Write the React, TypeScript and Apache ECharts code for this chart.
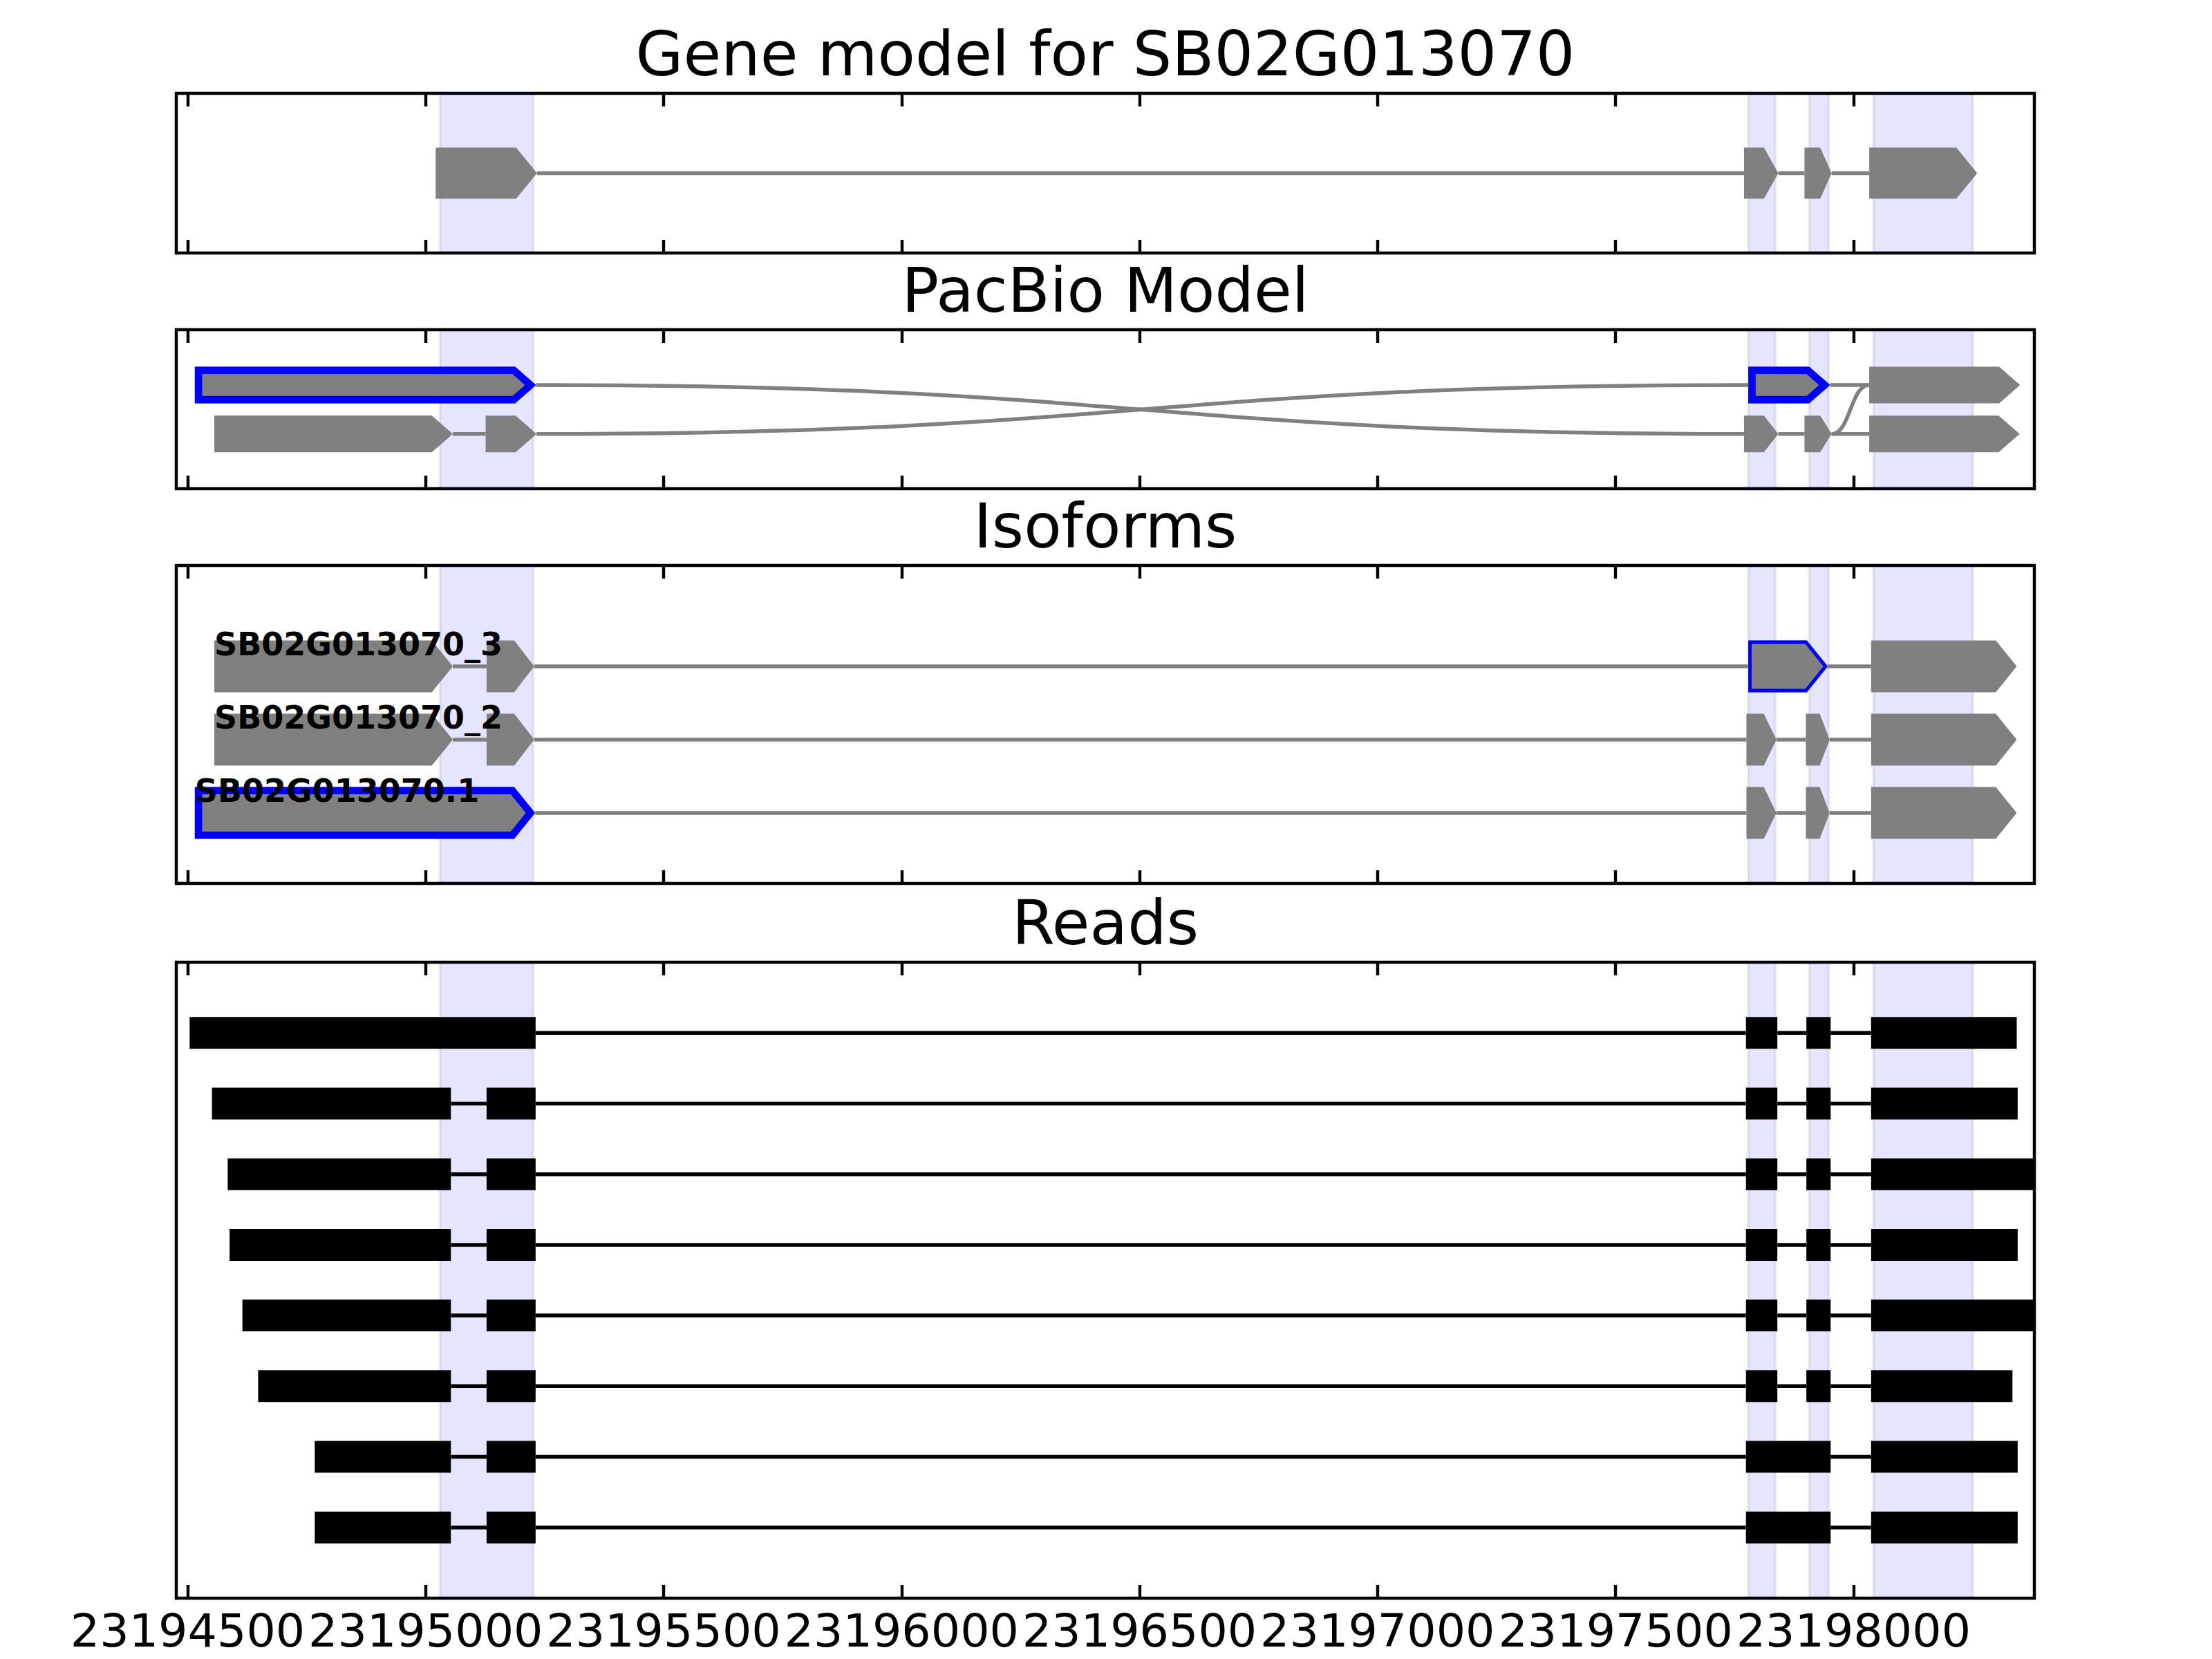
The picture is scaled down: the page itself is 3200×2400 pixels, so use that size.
import React, { useEffect, useRef } from "react";
import * as echarts from "echarts";

// ---------------- data ----------------
const X_MIN = 23194476;
const X_MAX = 23198380;
const xTicks = [23194500, 23195000, 23195500, 23196000, 23196500, 23197000, 23197500, 23198000];

const panelTitles = ["Gene model for SB02G013070", "PacBio Model", "Isoforms", "Reads"];

// shaded exon regions (reference gene model)
const highlightRegions: number[][] = [
  [23195030, 23195226],
  [23197779, 23197836],
  [23197907, 23197948],
  [23198042, 23198251],
];

// gene model exons [start, end]
const geneModelExons: number[][] = [
  [23195021, 23195234],
  [23197770, 23197842],
  [23197897, 23197954],
  [23198033, 23198260],
];

// PacBio splice graph nodes: [row, start, end, highlighted]
const pacbioExons: number[][] = [
  [0, 23194515, 23195232, 1],
  [1, 23194556, 23195057, 0],
  [1, 23195126, 23195233, 0],
  [0, 23197779, 23197951, 1],
  [1, 23197770, 23197842, 0],
  [1, 23197897, 23197954, 0],
  [0, 23198033, 23198350, 0],
  [1, 23198033, 23198349, 0],
];
// junctions: [from node, to node]
const pacbioJunctions: number[][] = [
  [0, 4],
  [1, 2],
  [2, 3],
  [3, 6],
  [4, 5],
  [5, 7],
  [5, 6],
];

const isoformNames = ["SB02G013070_3", "SB02G013070_2", "SB02G013070.1"];
const isoformExons: number[][][] = [
  [[23194556, 23195057], [23195128, 23195228], [23197779, 23197946], [23198037, 23198343]],
  [[23194556, 23195057], [23195128, 23195228], [23197775, 23197838], [23197900, 23197950], [23198037, 23198343]],
  [[23194515, 23195230], [23197775, 23197838], [23197900, 23197950], [23198037, 23198343]],
];
// [isoform, exon, thick(1)/thin(0)]
const isoformHighlights: number[][] = [
  [0, 2, 0],
  [2, 0, 1],
];

// reads: aligned blocks [start, end]
const readBlocks: number[][][] = [
  [[23194504, 23195231], [23197774, 23197840], [23197901, 23197952], [23198037, 23198343]],
  [[23194551, 23195053], [23195128, 23195231], [23197774, 23197840], [23197901, 23197952], [23198037, 23198345]],
  [[23194584, 23195053], [23195128, 23195231], [23197774, 23197840], [23197901, 23197952], [23198037, 23198420]],
  [[23194588, 23195053], [23195128, 23195231], [23197774, 23197840], [23197901, 23197952], [23198037, 23198345]],
  [[23194615, 23195053], [23195128, 23195231], [23197774, 23197840], [23197901, 23197952], [23198037, 23198420]],
  [[23194648, 23195053], [23195128, 23195231], [23197774, 23197840], [23197901, 23197952], [23198037, 23198334]],
  [[23194767, 23195053], [23195128, 23195231], [23197774, 23197952], [23198037, 23198345]],
  [[23194767, 23195053], [23195128, 23195231], [23197774, 23197952], [23198037, 23198345]],
];

// ---------------- layout / style ----------------
const PANEL_LEFT = 255;
const PANEL_WIDTH = 2688;
const panels = [
  { top: 135, height: 231, yMin: -1.5625, yMax: 1.5625, half: 0.5 },
  { top: 477, height: 230, yMin: -1.13, yMax: 2.12, half: 0.374 },
  { top: 818, height: 460, yMin: -1.377, yMax: 2.962, half: 0.354 },
  { top: 1392, height: 920, yMin: -1, yMax: 8, half: 0.225 },
];
const GRAY = "#808080";
const BLUE = "#0000ff";
const LW = 5.5;
const HEAD_MAX = 44;
const HEAD_FRAC = 0.42;
const THICK = 10.6;
const THIN = 5;
const FONT = "DejaVu Sans";

function inset(pts: number[][], d: number) {
  const n = pts.length;
  const L = pts.map((p, i) => {
    const q = pts[(i + 1) % n];
    const dx = q[0] - p[0];
    const dy = q[1] - p[1];
    const len = Math.hypot(dx, dy) || 1;
    const nx = -dy / len;
    const ny = dx / len;
    return { px: p[0] + nx * d, py: p[1] + ny * d, dx, dy };
  });
  return pts.map((_, i) => {
    const a = L[(i - 1 + n) % n];
    const b = L[i];
    const cr = a.dx * b.dy - a.dy * b.dx;
    if (Math.abs(cr) < 1e-9) return [b.px, b.py];
    const t = ((b.px - a.px) * b.dy - (b.py - a.py) * b.dx) / cr;
    return [a.px + a.dx * t, a.py + a.dy * t];
  });
}

function buildPrims(): any[][] {
  const P: any[][] = [[], [], [], []];
  for (let g = 0; g < 4; g++) highlightRegions.forEach(([s, e]) => P[g].push({ t: "shade", s, e, row: 0 }));

  geneModelExons.forEach(([s, e]) => P[0].push({ t: "exon", s, e, row: 0, arrow: true, fill: GRAY, outline: 0 }));
  for (let i = 0; i < geneModelExons.length - 1; i++)
    P[0].push({ t: "line", s: geneModelExons[i][1], e: geneModelExons[i + 1][0], r0: 0, r1: 0, row: 0, color: GRAY });

  pacbioExons.forEach(([row, s, e, hl]) =>
    P[1].push({ t: "exon", s, e, row, arrow: true, fill: GRAY, outline: hl ? THICK : 0 })
  );
  pacbioJunctions.forEach(([a, b]) =>
    P[1].push({
      t: "line",
      s: pacbioExons[a][2],
      e: pacbioExons[b][1],
      r0: pacbioExons[a][0],
      r1: pacbioExons[b][0],
      row: pacbioExons[a][0],
      color: GRAY,
    })
  );

  isoformExons.forEach((exs, r) => {
    exs.forEach(([s, e], k) => {
      const h = isoformHighlights.find(([ri, ki]) => ri === r && ki === k);
      P[2].push({ t: "exon", s, e, row: r, arrow: true, fill: GRAY, outline: h ? (h[2] ? THICK : THIN) : 0 });
    });
  });
  isoformExons.forEach((exs, r) => {
    for (let i = 0; i < exs.length - 1; i++)
      P[2].push({ t: "line", s: exs[i][1], e: exs[i + 1][0], r0: r, r1: r, row: r, color: GRAY });
  });
  isoformNames.forEach((name, r) => P[2].push({ t: "label", s: isoformExons[r][0][0], row: r, text: name }));

  readBlocks.forEach((bl, r) => {
    bl.forEach(([s, e]) => P[3].push({ t: "exon", s, e, row: r, arrow: false, fill: "#000", outline: 0 }));
  });
  readBlocks.forEach((bl, r) => {
    for (let i = 0; i < bl.length - 1; i++)
      P[3].push({ t: "line", s: bl[i][1], e: bl[i + 1][0], r0: r, r1: r, row: r, color: "#000" });
  });
  return P;
}

function makeRender(g: number, prims: any[]) {
  return (params: any, api: any) => {
    const p = prims[api.value(2)];
    const cs = params.coordSys;
    const half = panels[g].half;
    if (p.t === "shade") {
      const a = api.coord([p.s, 0])[0];
      const b = api.coord([p.e, 0])[0];
      return {
        type: "rect",
        z2: 0,
        shape: { x: a, y: cs.y, width: b - a, height: cs.height },
        style: { fill: "rgba(0,0,255,0.1)", stroke: "rgba(0,0,0,0.07)", lineWidth: 4 },
      };
    }
    if (p.t === "exon") {
      const tl = api.coord([p.s, p.row - half]);
      const br = api.coord([p.e, p.row + half]);
      const yC = api.coord([p.s, p.row])[1];
      const x0 = tl[0];
      const x1 = br[0];
      const yT = Math.min(tl[1], br[1]);
      const yB = Math.max(tl[1], br[1]);
      if (!p.arrow) {
        return { type: "rect", z2: 1, shape: { x: x0, y: yT, width: x1 - x0, height: yB - yT }, style: { fill: p.fill } };
      }
      const headU = Math.min(HEAD_MAX, HEAD_FRAC * (p.e - p.s));
      const xs = api.coord([p.e - headU, p.row])[0];
      const pts = [
        [x0, yT],
        [xs, yT],
        [x1, yC],
        [xs, yB],
        [x0, yB],
      ];
      const children: any[] = [{ type: "polygon", z2: 1, shape: { points: pts }, style: { fill: p.fill } }];
      if (p.outline) {
        children.push({
          type: "polygon",
          z2: 2,
          shape: { points: inset(pts, p.outline / 2) },
          style: { fill: "none", stroke: BLUE, lineWidth: p.outline, lineJoin: "miter" },
        });
      }
      return { type: "group", children };
    }
    if (p.t === "line") {
      const a = api.coord([p.s, p.r0]);
      const b = api.coord([p.e, p.r1]);
      if (p.r0 === p.r1) {
        return {
          type: "line",
          z2: 3,
          shape: { x1: a[0], y1: a[1], x2: b[0], y2: b[1] },
          style: { stroke: p.color, lineWidth: LW },
        };
      }
      const xm = (a[0] + b[0]) / 2;
      return {
        type: "bezierCurve",
        z2: 3,
        shape: { x1: a[0], y1: a[1], x2: b[0], y2: b[1], cpx1: xm, cpy1: a[1], cpx2: xm, cpy2: b[1] },
        style: { stroke: p.color, lineWidth: LW, fill: "none" },
      };
    }
    if (p.t === "label") {
      const a = api.coord([p.s, p.row - 0.3]);
      return {
        type: "text",
        z2: 4,
        x: a[0],
        y: a[1],
        style: {
          text: p.text,
          fontSize: 46,
          fontWeight: "bold",
          fontFamily: FONT,
          fill: "#000",
          align: "left",
          verticalAlign: "middle",
          textAlign: "left",
          textVerticalAlign: "middle",
        },
      };
    }
    return null;
  };
}

export default function App() {
  const ref = useRef<HTMLDivElement>(null);
  useEffect(() => {
    document.body.style.margin = "0";
    if (!ref.current) return;
    const chart = echarts.init(ref.current, null, { renderer: "svg", width: 3200, height: 2400 });
    const prims = buildPrims();

    const grid = panels.map((p) => ({
      left: PANEL_LEFT,
      top: p.top,
      width: PANEL_WIDTH,
      height: p.height,
      show: true,
      borderColor: "#000",
      borderWidth: 4.5,
      backgroundColor: "transparent",
      containLabel: false,
    }));

    const xAxis: any[] = [];
    panels.forEach((_, g) => {
      ["bottom", "top"].forEach((pos) => {
        xAxis.push({
          type: "value",
          gridIndex: g,
          position: pos,
          min: X_MIN,
          max: X_MAX,
          axisLine: { show: false, onZero: false },
          splitLine: { show: false },
          axisTick: {
            show: true,
            inside: true,
            length: 19,
            customValues: xTicks,
            lineStyle: { color: "#000", width: 4.4 },
          },
          axisLabel: {
            show: g === 3 && pos === "bottom",
            customValues: xTicks,
            fontSize: 66.7,
            lineHeight: 56,
            fontFamily: FONT,
            color: "#000",
            margin: 19,
            formatter: (v: number) => String(v),
          },
        });
      });
    });

    const yAxis = panels.map((p, g) => ({
      type: "value",
      gridIndex: g,
      min: p.yMin,
      max: p.yMax,
      inverse: true,
      show: false,
    }));

    const series = panels.map((_, g) => ({
      type: "custom",
      xAxisIndex: g * 2,
      yAxisIndex: g,
      clip: true,
      renderItem: makeRender(g, prims[g]),
      data: prims[g].map((p, i) => [p.s, p.row, i]),
      silent: true,
    }));

    const titleY = [78, 420, 761, 1335];
    const graphic = panelTitles.map((t, i) => ({
      type: "text",
      x: PANEL_LEFT + PANEL_WIDTH / 2,
      y: titleY[i],
      style: {
        text: t,
        fontSize: 89,
        fontFamily: FONT,
        fill: "#000",
        align: "center",
        verticalAlign: "middle",
        textAlign: "center",
        textVerticalAlign: "middle",
      },
    }));

    chart.setOption({
      animation: false,
      backgroundColor: "#fff",
      textStyle: { fontFamily: FONT },
      grid,
      xAxis,
      yAxis,
      series,
      graphic,
    });
    return () => chart.dispose();
  }, []);
  return <div ref={ref} style={{ width: 3200, height: 2400 }} />;
}
